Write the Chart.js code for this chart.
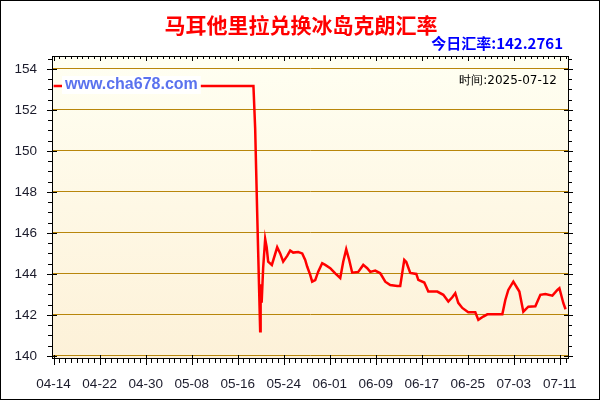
<!DOCTYPE html>
<html>
<head>
<meta charset="utf-8">
<script src="https://cdn.jsdelivr.net/npm/chart.js@4.4.0/dist/chart.umd.min.js"></script>
<style>
  html, body { margin: 0; padding: 0; background: #fff; }
</style>
</head>
<body>
<canvas id="rateChart" width="600" height="400"></canvas>
<script>
const chartTitle = '马耳他里拉兑换冰岛克朗汇率';
const todayRate = '今日汇率:142.2761';
const timeText = '时间:2025-07-12';
const watermark = 'www.cha678.com';

// x axis: days since 04-14, labels every 8 days
const xLabels = ['04-14', '04-22', '04-30', '05-08', '05-16', '05-24', '06-01', '06-09', '06-17', '06-25', '07-03', '07-11'];
const xLabelDays = [0, 8, 16, 24, 32, 40, 48, 56, 64, 72, 80, 88];
const yTicks = [140, 142, 144, 146, 148, 150, 152, 154];

// rate readings (day offset, value)
const days = [0, 34.74, 35.04, 35.21, 35.39, 35.56, 35.91, 35.99, 36.17, 36.43, 36.78, 37.04, 37.3, 37.94,
  38.87, 39.39, 39.91, 40.61, 41.13, 41.65, 42.52, 43.22, 43.74, 44.08, 44.61, 44.95, 45.48, 46.0,
  46.69, 47.22, 48.09, 48.96, 49.83, 50.35, 50.87, 51.39, 51.91, 52.96, 53.83, 54.52, 55.05, 55.92,
  56.79, 57.66, 58.52, 59.74, 60.26, 60.61, 60.96, 61.31, 62.0, 63.05, 63.4, 64.44, 65.14, 66.7,
  67.75, 68.62, 69.31, 69.83, 70.35, 71.05, 72.09, 73.31, 73.84, 74.7, 75.4, 78.01, 78.53, 79.05,
  79.92, 80.62, 80.97, 81.66, 82.53, 83.75, 84.62, 85.49, 86.71, 87.58, 87.93, 88.62, 89.0];
const rates = [153.17, 153.17, 151.1, 149.1, 147.0, 145.1, 141.2, 143.5, 142.6, 144.3, 145.7, 145.3, 144.6, 144.44,
  145.3, 145.0, 144.6, 144.88, 145.14, 145.04, 145.07, 145.0, 144.68, 144.36, 143.95, 143.62, 143.7, 144.11,
  144.52, 144.44, 144.28, 144.03, 143.8, 144.59, 145.2, 144.68, 144.06, 144.1, 144.44, 144.28, 144.1, 144.16,
  144.03, 143.62, 143.46, 143.41, 143.41, 144.05, 144.68, 144.58, 144.05, 144.0, 143.71, 143.58, 143.14, 143.14,
  142.98, 142.65, 142.86, 143.06, 142.59, 142.34, 142.13, 142.13, 141.76, 141.92, 142.03, 142.03, 142.73, 143.22,
  143.62, 143.3, 143.14, 142.16, 142.4, 142.42, 142.98, 143.02, 142.94, 143.22, 143.3, 142.57, 142.2761];

const gridColor = '#b8860b';
const labelFont = { family: 'Liberation Sans', size: 13.5 };

const framePlugin = {
  id: 'frame',
  beforeDraw(chart) {
    const { ctx, chartArea: a } = chart;
    ctx.save();
    ctx.fillStyle = '#ffffff';
    ctx.fillRect(0, 0, chart.width, chart.height);
    const g = ctx.createLinearGradient(0, a.top, 0, a.bottom);
    g.addColorStop(0, '#fffff2');
    g.addColorStop(1, '#fdf1d8');
    ctx.fillStyle = g;
    ctx.fillRect(a.left, a.top, a.right - a.left, a.bottom - a.top);
    ctx.restore();
  },
  afterDraw(chart) {
    const { ctx, chartArea: a } = chart;
    const xs = chart.scales.x, ys = chart.scales.y;
    ctx.save();
    ctx.strokeStyle = '#000';
    ctx.lineWidth = 1;
    ctx.strokeRect(a.left + 0.5, a.top + 0.5, a.right - a.left - 1, a.bottom - a.top - 1);

    // tick marks
    ctx.beginPath();
    for (let d = 0; d <= 89; d++) {
      const px = Math.round(xs.getPixelForValue(d)) + 0.5;
      const major = d % 8 === 0;
      ctx.moveTo(px, a.bottom - (major ? 4 : 0));
      ctx.lineTo(px, a.bottom + (major ? 6 : 4));
      ctx.moveTo(px, a.top);
      ctx.lineTo(px, a.top + (major ? 5 : 3));
    }
    for (let v = 140; v <= 154.5; v += 0.5) {
      const py = Math.round(ys.getPixelForValue(v)) + 0.5;
      const major = v % 2 === 0;
      ctx.moveTo(a.left - (major ? 5 : 4), py);
      ctx.lineTo(a.left + (major ? 5 : 0), py);
      ctx.moveTo(a.right - (major ? 5 : 0), py);
      ctx.lineTo(a.right + (major ? 4 : 3), py);
    }
    ctx.stroke();

    // watermark
    ctx.font = 'bold 16px "Liberation Sans"';
    const ww = ctx.measureText(watermark).width;
    ctx.fillStyle = '#ffffff';
    ctx.fillRect(62, 76, ww + 6, 18);
    ctx.fillStyle = '#5a72ee';
    ctx.textBaseline = 'middle';
    ctx.textAlign = 'left';
    ctx.fillText(watermark, 65, 85);

    // time label
    ctx.font = '12px "DejaVu Sans"';
    ctx.fillStyle = '#000';
    ctx.textAlign = 'right';
    ctx.fillText(timeText, 557, 81);

    // titles
    ctx.font = 'bold 21px "Noto Sans CJK SC"';
    ctx.fillStyle = '#ff0000';
    ctx.textAlign = 'center';
    ctx.fillText(chartTitle, 301, 25);
    ctx.font = 'bold 15px "Noto Sans CJK SC"';
    ctx.fillStyle = '#0000ff';
    ctx.textAlign = 'right';
    ctx.fillText(todayRate, 563, 43);

    // outer border
    ctx.strokeStyle = '#000';
    ctx.strokeRect(0.5, 0.5, chart.width - 1, chart.height - 1);
    ctx.restore();
  }
};

new Chart(document.getElementById('rateChart'), {
  type: 'line',
  data: {
    datasets: [{
      data: days.map((d, i) => ({ x: d, y: rates[i] })),
      borderColor: '#ff0000',
      borderWidth: 2.5,
      pointRadius: 0,
      tension: 0,
      fill: false
    }]
  },
  options: {
    responsive: false,
    animation: false,
    layout: { padding: { left: 0, top: 56, right: 31, bottom: 0 } },
    plugins: { legend: { display: false }, tooltip: { enabled: false } },
    scales: {
      x: {
        type: 'linear',
        min: -0.28,
        max: 89.6,
        afterFit: s => { s.height = 41; },
        afterBuildTicks: s => { s.ticks = xLabelDays.map(v => ({ value: v })); },
        grid: { display: false },
        border: { display: false },
        ticks: {
          autoSkip: false,
          maxRotation: 0,
          padding: 9,
          color: '#1b1b2b',
          font: labelFont,
          callback: v => xLabels[xLabelDays.indexOf(v)]
        }
      },
      y: {
        min: 139.85,
        max: 154.63,
        afterFit: s => { s.width = 52; },
        afterBuildTicks: s => { s.ticks = yTicks.map(v => ({ value: v })); },
        grid: { color: gridColor, drawTicks: false },
        border: { display: false },
        ticks: {
          padding: 15,
          color: '#1b1b2b',
          font: labelFont,
          callback: v => String(v)
        }
      }
    }
  },
  plugins: [framePlugin]
});
</script>
</body>
</html>
